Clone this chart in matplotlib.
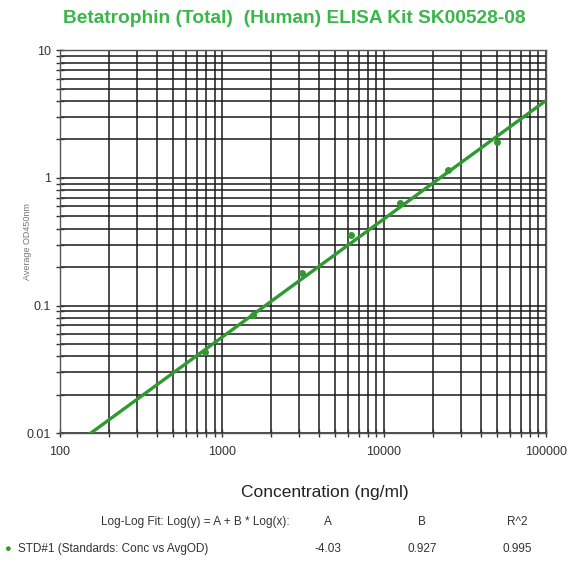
import numpy as np
import matplotlib
matplotlib.use("Agg")
import matplotlib.pyplot as plt
from matplotlib.ticker import LogLocator, NullFormatter, FixedLocator, FixedFormatter

plt.rcParams['font.family'] = ['Liberation Sans', 'DejaVu Sans']

# standards (conc vs avg OD)
conc = [781.25, 1562.5, 3125, 6250, 12500, 25000, 50000]
avg_od = [0.043, 0.085, 0.18, 0.355, 0.64, 1.16, 1.9]

# log-log fit parameters
fit_a = -4.03
fit_b = 0.927
fit_r2 = 0.995
fit_range = [150, 100000]

x_ticks = [100, 1000, 10000, 100000]
x_labels = ["100", "1000", "10000", "100000"]
y_ticks = [0.01, 0.1, 1, 10]
y_labels = ["0.01", "0.1", "1", "10"]

GREEN = "#2f9a2f"
TITLE_GREEN = "#3cb64a"
TXT = "#333333"

fig = plt.figure(figsize=(5.71, 5.64), dpi=100)
ax = fig.add_axes([0.105, 0.232, 0.851, 0.679])

xf = np.logspace(np.log10(fit_range[0]), np.log10(fit_range[1]), 50)
yf = 10 ** (fit_a + fit_b * np.log10(xf))
ax.plot(xf, yf, color=GREEN, lw=2.4, zorder=3)
ax.plot(conc, avg_od, 'o', color=GREEN, ms=4, zorder=4)

ax.set_xscale('log')
ax.set_yscale('log')
ax.set_xlim(100, 100000)
ax.set_ylim(0.01, 10)

ax.xaxis.set_major_locator(FixedLocator(x_ticks))
ax.xaxis.set_major_formatter(FixedFormatter(x_labels))
ax.yaxis.set_major_locator(FixedLocator(y_ticks))
ax.yaxis.set_major_formatter(FixedFormatter(y_labels))
ax.xaxis.set_minor_locator(LogLocator(base=10, subs=np.arange(2, 10)))
ax.yaxis.set_minor_locator(LogLocator(base=10, subs=np.arange(2, 10)))
ax.xaxis.set_minor_formatter(NullFormatter())
ax.yaxis.set_minor_formatter(NullFormatter())

ax.grid(True, which='both', color='#1a1a1a', lw=1.1)
ax.tick_params(which='both', direction='inout', length=6, width=1, labelsize=9, colors=TXT)
ax.tick_params(axis='x', pad=6)
for s in ax.spines.values():
    s.set_color('#555555')
    s.set_linewidth(1)

ax.set_xlabel("Concentration (ng/ml)", fontsize=12.5, color='#222222')
ax.xaxis.set_label_coords(0.5 + 22 / 486, -0.135)
ax.set_ylabel("Average OD450nm", fontsize=6.5, color='#777777')
ax.yaxis.set_label_coords(-0.058, 0.5)

fig.text(294 / 571, 0.968, "Betatrophin (Total)  (Human) ELISA Kit SK00528-08",
         ha='center', va='center', fontsize=13.8, fontweight='bold', color=TITLE_GREEN)

# fit table
ty1 = 1 - 522 / 564
ty2 = 1 - 549 / 564
fs = 8.5
fig.text(195 / 571, ty1, "Log-Log Fit: Log(y) = A + B * Log(x):", ha='center', va='center', fontsize=fs, color=TXT)
fig.text(328 / 571, ty1, "A", ha='center', va='center', fontsize=fs, color=TXT)
fig.text(422 / 571, ty1, "B", ha='center', va='center', fontsize=fs, color=TXT)
fig.text(517 / 571, ty1, "R^2", ha='center', va='center', fontsize=fs, color=TXT)
fig.text(7 / 571, ty2, "\u25CF", ha='center', va='center', fontsize=8, color=GREEN)
fig.text(18 / 571, ty2, "STD#1 (Standards: Conc vs AvgOD)", ha='left', va='center', fontsize=fs, color=TXT)
fig.text(328 / 571, ty2, f"{fit_a:.2f}", ha='center', va='center', fontsize=fs, color=TXT)
fig.text(422 / 571, ty2, f"{fit_b:.3f}", ha='center', va='center', fontsize=fs, color=TXT)
fig.text(517 / 571, ty2, f"{fit_r2:.3f}", ha='center', va='center', fontsize=fs, color=TXT)

fig.savefig("out.png", dpi=100, facecolor='white')
